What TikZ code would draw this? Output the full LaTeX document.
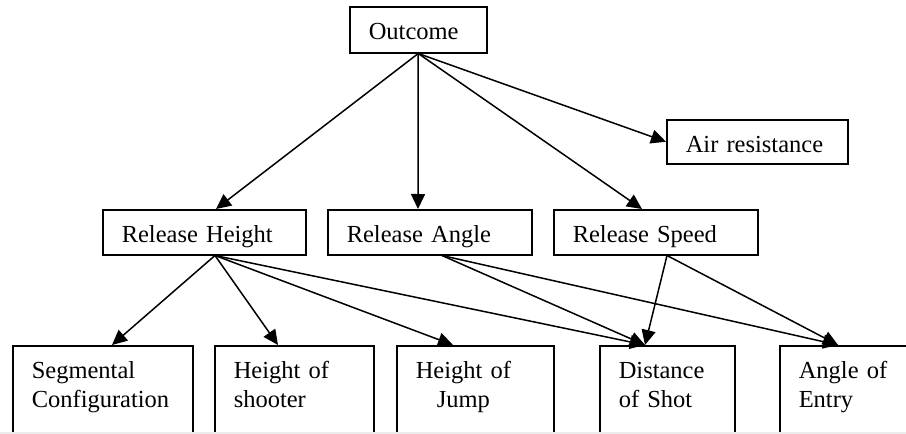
\documentclass[tikz,border=0pt]{standalone}
\usepackage{fontspec}
\setmainfont{Liberation Serif}
\usetikzlibrary{arrows.meta}
\begin{document}
\begin{tikzpicture}[x=1pt,y=-1pt,
  box/.style={draw, line width=1.5pt, anchor=north west, inner xsep=19pt,
    inner ysep=0pt, align=left, text height=33pt,
    font=\fontsize{24.5pt}{29pt}\selectfont},
  tall/.style={box, text depth=150pt},
  conn/.style={line width=1.5pt, -{Triangle[length=15pt,width=14pt]}}]
\useasboundingbox (0,0) rectangle (906,434);
\clip (0,0) rectangle (906,434);

% top level
\node[box, text width=99pt, text depth=13pt] (out) at (349,6) {Outcome};
\node[box, text width=143pt, text depth=11pt] (air) at (666,119) {Air resistance};

% release parameters
\node[box, text width=165pt, text depth=12pt] (rh) at (102,209) {Release Height};
\node[box, text width=166pt, text depth=12pt] (ra) at (327,209) {Release Angle};
\node[box, text width=166pt, text depth=12pt] (rs) at (553,209) {Release Speed};

% bottom row (boxes run past the lower edge)
\node[tall, text width=142pt] (seg) at (12,345) {Segmental\\Configuration};
\node[tall, text width=121pt] (sho) at (214,345) {Height of\\shooter};
\node[tall, text width=119pt] (jmp) at (396,345)
  {\begin{tabular}[t]{@{}c@{}}Height of\\Jump\end{tabular}};
\node[tall, text width=97pt] (dis) at (599,345) {Distance\\of Shot};
\node[tall, text width=120pt] (ent) at (779,345) {Angle of\\Entry};

% from the outcome
\draw[conn] (out.south) -- ([xshift=114pt]rh.north west);
\draw[conn] (out.south) -- ([xshift=91pt]ra.north west);
\draw[conn] (out.south) -- ([xshift=89pt]rs.north west);
\draw[conn] (out.south) -- (air.west);

% from release height
\draw[conn] ([xshift=113pt]rh.south west) -- ([xshift=100pt]seg.north west);
\draw[conn] ([xshift=113pt]rh.south west) -- ([xshift=64pt]sho.north west);
\draw[conn] ([xshift=113pt]rh.south west) -- ([xshift=57pt]jmp.north west);
\draw[conn] ([xshift=113pt]rh.south west) -- ([xshift=46pt]dis.north west);

% from release angle
\draw[conn] ([xshift=115pt]ra.south west) -- ([xshift=46pt]dis.north west);
\draw[conn] ([xshift=115pt]ra.south west) -- ([xshift=59pt]ent.north west);

% from release speed
\draw[conn] ([xshift=114pt]rs.south west) -- ([xshift=46pt]dis.north west);
\draw[conn] ([xshift=114pt]rs.south west) -- ([xshift=59pt]ent.north west);

% faint page edge along the bottom
\draw[black!8, line width=2pt] (0,433) -- (906,433);
\end{tikzpicture}
\end{document}
